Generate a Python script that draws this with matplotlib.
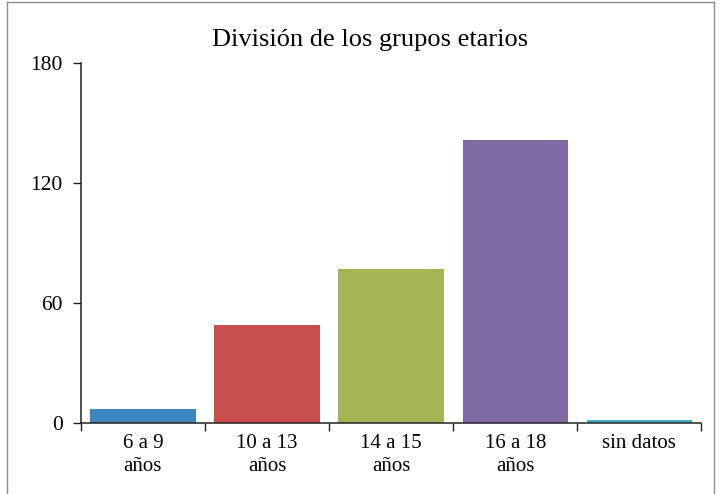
import matplotlib
matplotlib.use("Agg")
import matplotlib.pyplot as plt
from matplotlib.lines import Line2D

categories = ["6 a 9\naños", "10 a 13\naños", "14 a 15\naños", "16 a 18\naños", "sin datos"]
values = [7, 49, 77, 141.5, 1.5]
colors = ["#3E86BF", "#C84E4C", "#A7B455", "#7D6AA2", "#44A9C2"]
yticks = [0, 60, 120, 180]
title = "División de los grupos etarios"

plt.rcParams['font.family'] = ['Liberation Serif', 'DejaVu Serif']

fig = plt.figure(figsize=(7.2, 4.94), dpi=100)
ax = fig.add_axes([0.1122, 0.1437, 0.8621, 0.7282])

x = list(range(len(categories)))
ax.bar(x, values, width=0.85, color=colors)

ax.set_xlim(-0.5, len(categories) - 0.5)
ax.set_ylim(0, 180)
ax.set_yticks(yticks)
ax.set_yticklabels([str(v) for v in yticks], fontsize=15.5)
ax.set_xticks(x)
ax.set_xticklabels(categories, fontsize=15, linespacing=1.28)
ax.set_xticks([i - 0.5 for i in range(len(categories) + 1)], minor=True)
ax.tick_params(axis='x', which='major', length=0, pad=8)
ax.tick_params(axis='x', which='minor', length=6, width=1.0, direction='out', color='#222222')
ax.tick_params(axis='y', which='major', length=6, width=1.0, direction='out', pad=7, color='#222222')

for s in ['top', 'right']:
    ax.spines[s].set_visible(False)
for s in ['left', 'bottom']:
    ax.spines[s].set_linewidth(1.1)
    ax.spines[s].set_color('#222222')

fig.text(370 / 720, 1 - 46 / 494, title, ha='center', va='baseline', fontsize=19)

# outer frame
fc = '#8c8c8c'
fig.add_artist(Line2D([7 / 720, 7 / 720], [0, 1 - 2 / 494], transform=fig.transFigure, color=fc, lw=1.0))
fig.add_artist(Line2D([714 / 720, 714 / 720], [0, 1 - 2 / 494], transform=fig.transFigure, color=fc, lw=1.0))
fig.add_artist(Line2D([7 / 720, 714 / 720], [1 - 2 / 494, 1 - 2 / 494], transform=fig.transFigure, color=fc, lw=1.0))

fig.savefig("out.png", dpi=100)
